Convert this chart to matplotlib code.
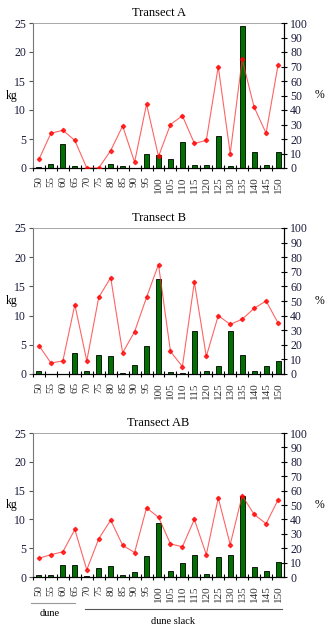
"""Bar and line chart of three transects (kg and %)."""

import matplotlib
matplotlib.use("Agg")
import matplotlib.pyplot as plt

plt.rcParams["font.family"] = ["Liberation Serif", "DejaVu Serif"]

positions = [50, 55, 60, 65, 70, 75, 80, 85, 90, 95, 100,
             105, 110, 115, 120, 125, 130, 135, 140, 145, 150]

kg_a = [0.2, 0.7, 4.2, 0.3, 0, 0, 0.7, 0.3, 0, 2.5, 2.2,
        1.6, 4.4, 0.5, 0.5, 5.6, 0.3, 24.5, 2.8, 0.5, 2.8]
pct_a = [6, 24, 26, 19, 0, 0, 12, 29, 4, 44, 8,
         30, 36, 17, 19, 70, 10, 75, 42, 24, 71]

kg_b = [0.5, 0, 0, 3.6, 0.5, 3.3, 3.1, 0.15, 1.6, 4.8, 16.3,
        0.3, 0.15, 7.3, 0.5, 1.3, 7.4, 3.3, 0.5, 1.4, 2.2]
pct_b = [19.5, 7.5, 9, 47.5, 9, 52.5, 66, 14.5, 29, 52.5, 75,
         15.5, 5, 63, 12, 40, 34, 37.5, 45, 50, 35]

kg_ab = [0.3, 0.3, 2.0, 2.0, 0.15, 1.6, 1.9, 0.3, 0.8, 3.6, 9.3,
         1.0, 2.4, 3.9, 0.5, 3.4, 3.9, 14.0, 1.7, 1.0, 2.6]
pct_ab = [13, 15.5, 17.5, 33, 5, 26.5, 39.5, 22, 17, 48, 41.5,
          23, 21, 40, 15.5, 55, 22.5, 56.5, 43.5, 37, 53.5]

titles = ["Transect A", "Transect B", "Transect AB"]

W, H = 327, 640
boxes = [(33, 23, 284, 168), (33, 228, 284, 374), (33, 433, 284, 577)]

BAR_COLOR = "#007000"
LINE_COLOR = "#ff3030"


def draw_panel(fig, box, title, kg, pct):
    x0, y0, x1, y1 = box
    ax = fig.add_axes([x0 / W, 1 - y1 / H, (x1 - x0) / W, (y1 - y0) / H])
    idx = list(range(len(positions)))

    ax.bar(idx, kg, width=0.42, color=BAR_COLOR, edgecolor="black",
           linewidth=0.6, zorder=2)
    ax.set_xlim(-0.5, len(positions) - 0.5)
    ax.set_ylim(0, 25)
    ax.set_yticks(range(0, 26, 5))
    ax.tick_params(axis="y", direction="out", length=3, width=0.8,
                   color="#555555", labelsize=8.5, labelcolor="#1a1a3a", pad=2)
    ax.set_xticks(idx)
    ax.set_xticklabels([str(p) for p in positions], rotation=90,
                       fontsize=8, color="#333333")
    ax.tick_params(axis="x", which="major", length=0, pad=6)
    ax.set_xticks([i + 0.5 for i in idx[:-1]] + [-0.5], minor=True)
    ax.tick_params(axis="x", which="minor", direction="inout", length=5,
                   width=0.8)
    ax.spines["left"].set_color("#777777")
    ax.spines["top"].set_color("#999999")
    ax.spines["top"].set_linewidth(0.6)
    ax.set_ylabel("kg", rotation=0, fontsize=8.5, labelpad=2, va="center")
    ax.set_title(title, fontsize=9, pad=5)

    ax2 = ax.twinx()
    ax2.plot(idx, pct, color=LINE_COLOR, linewidth=0.8, alpha=0.75,
             marker="D", markersize=2.2, markerfacecolor="red",
             markeredgecolor="red", zorder=3)
    ax2.set_ylim(0, 100)
    ax2.set_yticks(range(0, 101, 10))
    ax2.tick_params(axis="y", direction="inout", length=5, width=0.8,
                    labelsize=8.5, labelcolor="#1a1a3a", pad=2)
    ax2.spines["left"].set_visible(False)
    ax2.spines["top"].set_visible(False)
    ax2.set_ylabel("%", rotation=0, fontsize=8.5, labelpad=8, va="center")
    return ax


fig = plt.figure(figsize=(W / 100, H / 100), dpi=100)
for box, title, kg, pct in zip(boxes, titles, [kg_a, kg_b, kg_ab],
                               [pct_a, pct_b, pct_ab]):
    draw_panel(fig, box, title, kg, pct)

# dune / dune slack brackets below the last panel
fig.add_artist(plt.Line2D([31 / W, 75 / W], [1 - 603 / H] * 2,
                          color="#999999", linewidth=0.8))
fig.add_artist(plt.Line2D([85 / W, 282 / W], [1 - 609 / H] * 2,
                          color="#555555", linewidth=0.8))
fig.text(50 / W, 1 - 614 / H, "dune", fontsize=7.5, ha="center", va="center")
fig.text(173 / W, 1 - 622 / H, "dune slack", fontsize=7.5, ha="center",
         va="center")

fig.savefig("out.png", dpi=100, facecolor="white")
